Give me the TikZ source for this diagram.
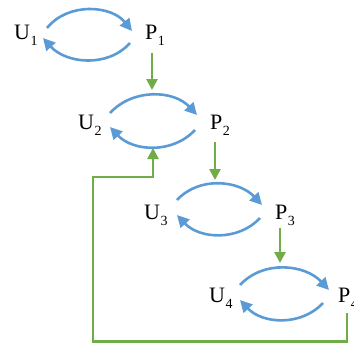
\documentclass[tikz,border=0pt]{standalone}
\usepackage{fontspec}
\setmainfont{Liberation Serif}
\usetikzlibrary{arrows.meta,calc}
\definecolor{arcblue}{RGB}{91,155,213}
\definecolor{flowgreen}{RGB}{112,173,71}
\newcommand\sublbl[2]{#1\kern0.5pt\raisebox{-6pt}{\fontsize{14}{14}\selectfont #2}}
\begin{document}
\begin{tikzpicture}[x=1pt,y=1pt,
  lbl/.style={anchor=base west, inner sep=0pt, font=\fontsize{22}{26}\selectfont},
  cyc/.style={draw=arcblue, line width=2.6pt, -{Triangle[length=12pt,width=12pt]}},
  flow/.style={draw=flowgreen, line width=2.6pt, -{Triangle[length=11pt,width=11pt]}}]
\useasboundingbox (0,0) rectangle (354,-343);
% labels
\node[lbl] (U1) at (14,-39)  {\sublbl{U}{1}};
\node[lbl] (P1) at (145,-39) {\sublbl{P}{1}};
\node[lbl] (U2) at (78,-129) {\sublbl{U}{2}};
\node[lbl] (P2) at (210,-129) {\sublbl{P}{2}};
\node[lbl] (U3) at (144,-219) {\sublbl{U}{3}};
\node[lbl] (P3) at (275,-219) {\sublbl{P}{3}};
\node[lbl] (U4) at (209,-302) {\sublbl{U}{4}};
\node[lbl] (P4) at (338,-302) {\sublbl{P}{4}};
% cycles: row / top start / top tip / bottom start / bottom tip / top angle / bottom angle
\foreach \i/\ts/\tt/\bs/\bt/\ta/\ba in {
  1/{33,11}/{-13,8}/{-15,-4}/{29,1}/51/48,
  2/{32,16}/{-13,14}/{-15,-1}/{32,2}/47/47,
  3/{33,19}/{-13,14}/{-15,1}/{33,4}/47/47,
  4/{31,17}/{-9,12}/{-15,-1}/{31,2}/47/47}{
  \draw[cyc] ($(U\i.base west)+(\ts)$) to[out=\ta,in=180-\ta] ($(P\i.base west)+(\tt)$);
  \draw[cyc] ($(P\i.base west)+(\bs)$) to[out=-180+\ba,in=-\ba] ($(U\i.base west)+(\bt)$);
}
% green flow arrows
\coordinate (in2) at (152,-90);
\coordinate (in3) at (215,-180);
\coordinate (in4) at (280,-263);
\draw[flow] ($(P1.base west)+(7,-14)$) -- (in2);
\draw[flow] ($(P2.base west)+(5,-13)$) -- (in3);
\draw[flow] ($(P3.base west)+(5,-9)$) -- (in4);
% feedback
\coordinate (fbBL) at (93,-341.5);
\coordinate (fbTR) at (153,-177);
\coordinate (fbEnd) at (153,-148);
\draw[flow] ($(P4.base west)+(9,-11)$) |- (fbBL) |- (fbTR) -- (fbEnd);
\end{tikzpicture}
\end{document}
